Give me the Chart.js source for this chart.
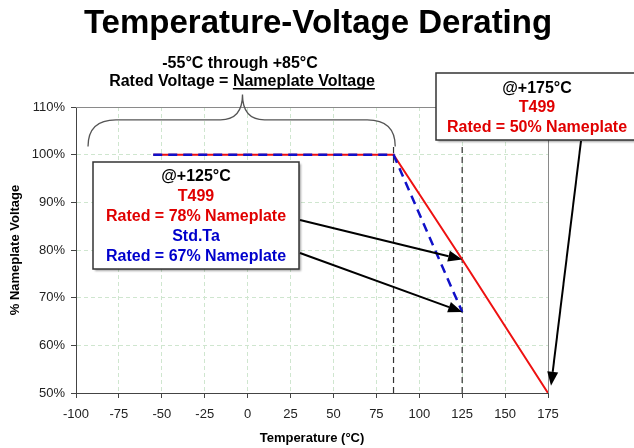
<!DOCTYPE html>
<html>
<head>
<title>Temperature-Voltage Derating</title>
<script src="https://cdn.jsdelivr.net/npm/chart.js"></script>
<style>
    body { margin: 0; background: #fff; }
</style>
</head>
<body>
<canvas id="derating" width="634" height="448"></canvas>
<script>
    // T499 derating curve (red, solid)
    const t499Temps = [-55, 85, 125, 175];
    const t499Rated = [100, 100, 78, 50];
    // Std. tantalum derating curve (blue, dashed)
    const stdTaTemps = [-55, 85, 125];
    const stdTaRated = [100, 100, 67];
    // vertical marker lines at +85 and +125
    const markerTemps = [85, 125];
    const markerSpan = [50, 102];
    // axis ranges
    const xRange = [-100, 175, 25];
    const yRange = [50, 110, 10];

    const RED = '#ee1111';
    const BLUE = '#1010c8';
    const GRID = '#cfe6cf';
    const AXIS = '#444';

    const toPoints = (xs, ys) => xs.map((x, i) => ({ x: x, y: ys[i] }));

    const datasets = [
        {
            label: 'Std.Ta',
            data: toPoints(stdTaTemps, stdTaRated),
            borderColor: BLUE,
            borderWidth: 2.5,
            borderDash: [9, 6],
            pointRadius: 0,
            order: 0
        },
        {
            label: 'T499',
            data: toPoints(t499Temps, t499Rated),
            borderColor: RED,
            borderWidth: 2,
            pointRadius: 0,
            order: 1
        }
    ];
    markerTemps.forEach(t => {
        datasets.push({
            label: 'marker ' + t,
            data: markerSpan.map(v => ({ x: t, y: v })),
            borderColor: '#333',
            borderWidth: 1.2,
            borderDash: [6, 4],
            pointRadius: 0,
            order: 2
        });
    });

    function arrow(ctx, x0, y0, x1, y1) {
        const ang = Math.atan2(y1 - y0, x1 - x0), L = 14, W = 5.5;
        const bx = x1 - L * Math.cos(ang), by = y1 - L * Math.sin(ang);
        ctx.beginPath();
        ctx.moveTo(x0, y0);
        ctx.lineTo(bx, by);
        ctx.stroke();
        ctx.beginPath();
        ctx.moveTo(x1, y1);
        ctx.lineTo(bx + W * Math.sin(ang), by - W * Math.cos(ang));
        ctx.lineTo(bx - W * Math.sin(ang), by + W * Math.cos(ang));
        ctx.closePath();
        ctx.fill();
    }

    function box(ctx, x, y, w, h, lines) {
        ctx.save();
        ctx.shadowColor = 'rgba(0,0,0,0.35)';
        ctx.shadowOffsetX = 2;
        ctx.shadowOffsetY = 2;
        ctx.shadowBlur = 2;
        ctx.fillStyle = '#fff';
        ctx.fillRect(x, y, w, h);
        ctx.restore();
        ctx.strokeStyle = '#333';
        ctx.lineWidth = 1.5;
        ctx.strokeRect(x, y, w, h);
        ctx.textAlign = 'center';
        ctx.textBaseline = 'middle';
        lines.forEach(l => {
            ctx.fillStyle = l.color;
            ctx.font = 'bold 16px Arial';
            ctx.fillText(l.text, l.cx, l.cy);
        });
    }

    const overlay = {
        id: 'overlay',
        afterDraw(chart) {
            const ctx = chart.ctx, xs = chart.scales.x, ys = chart.scales.y, a = chart.chartArea;
            ctx.save();

            // plot frame (top and right)
            ctx.strokeStyle = '#8a8a8a';
            ctx.lineWidth = 1;
            ctx.beginPath();
            ctx.moveTo(a.left, a.top + 0.5);
            ctx.lineTo(a.right + 0.5, a.top + 0.5);
            ctx.lineTo(a.right + 0.5, a.bottom);
            ctx.stroke();

            // title
            ctx.fillStyle = '#000';
            ctx.font = 'bold 33px Arial';
            ctx.textAlign = 'center';
            ctx.textBaseline = 'alphabetic';
            ctx.fillText('Temperature-Voltage Derating', 318, 33);

            // range note
            ctx.font = 'bold 16px Arial';
            ctx.fillText('-55\u00b0C through +85\u00b0C', 240, 68);
            const p1 = 'Rated Voltage = ', p2 = 'Nameplate Voltage';
            const w1 = ctx.measureText(p1).width, w2 = ctx.measureText(p2).width;
            const sx = 242 - (w1 + w2) / 2;
            ctx.textAlign = 'left';
            ctx.fillText(p1, sx, 86);
            ctx.fillText(p2, sx + w1, 86);
            ctx.fillRect(sx + w1, 88, w2, 1.5);

            // brace over -55..+85 range
            const bx0 = xs.getPixelForValue(-93), bx1 = xs.getPixelForValue(86), bxm = xs.getPixelForValue(-3);
            const byEnd = ys.getPixelForValue(101.7), byMid = ys.getPixelForValue(107.3), byTip = ys.getPixelForValue(112.6);
            ctx.strokeStyle = '#555';
            ctx.lineWidth = 1.3;
            ctx.beginPath();
            ctx.moveTo(bx0, byEnd);
            ctx.quadraticCurveTo(bx0, byMid, bx0 + 28, byMid);
            ctx.lineTo(bxm - 22, byMid);
            ctx.quadraticCurveTo(bxm, byMid, bxm, byTip);
            ctx.quadraticCurveTo(bxm, byMid, bxm + 22, byMid);
            ctx.lineTo(bx1 - 28, byMid);
            ctx.quadraticCurveTo(bx1, byMid, bx1, byEnd);
            ctx.stroke();

            // callout boxes
            box(ctx, 93, 162, 206, 107, [
                { text: '@+125\u00b0C', color: '#000', cx: 196, cy: 177 },
                { text: 'T499', color: '#e00000', cy: 197, cx: 196 },
                { text: 'Rated = 78% Nameplate', color: '#e00000', cx: 196, cy: 217 },
                { text: 'Std.Ta', color: '#0000cc', cx: 196, cy: 237 },
                { text: 'Rated = 67% Nameplate', color: '#0000cc', cx: 196, cy: 257 }
            ]);
            box(ctx, 436, 73, 210, 67, [
                { text: '@+175\u00b0C', color: '#000', cx: 537, cy: 89 },
                { text: 'T499', color: '#e00000', cx: 537, cy: 108 },
                { text: 'Rated = 50% Nameplate', color: '#e00000', cx: 537, cy: 128 }
            ]);

            // arrows to the rated points
            ctx.strokeStyle = '#000';
            ctx.fillStyle = '#000';
            ctx.lineWidth = 2;
            arrow(ctx, 300, 220, xs.getPixelForValue(125), ys.getPixelForValue(t499Rated[2]));
            arrow(ctx, 300, 253, xs.getPixelForValue(125), ys.getPixelForValue(stdTaRated[2]));
            arrow(ctx, 581, 141, xs.getPixelForValue(175) + 3, ys.getPixelForValue(51.5));

            ctx.restore();
        }
    };

    const tickFont = { family: 'Arial', size: 13 };
    const titleFont = { family: 'Arial', size: 13, weight: 'bold' };

    new Chart(document.getElementById('derating'), {
        type: 'line',
        data: { datasets: datasets },
        options: {
            responsive: false,
            animation: false,
            devicePixelRatio: 1,
            layout: { padding: { top: 107, right: 86, left: 0, bottom: 0 } },
            plugins: { legend: { display: false }, tooltip: { enabled: false } },
            elements: { line: { tension: 0 } },
            scales: {
                x: {
                    type: 'linear',
                    min: xRange[0], max: xRange[1],
                    ticks: { stepSize: xRange[2], color: '#222', font: tickFont, padding: 9, autoSkip: false, maxRotation: 0 },
                    grid: { color: GRID, tickColor: AXIS, tickLength: 5 },
                    border: { color: AXIS, dash: [4, 3] },
                    title: { display: true, text: 'Temperature (\u00b0C)', color: '#000', font: titleFont, padding: { top: 0, bottom: 2 } },
                    afterFit: s => { s.height = 55; }
                },
                y: {
                    min: yRange[0], max: yRange[1],
                    ticks: { stepSize: yRange[2], color: '#222', font: tickFont, padding: 6, callback: v => v + '%' },
                    grid: { color: GRID, tickColor: AXIS, tickLength: 5 },
                    border: { color: AXIS, dash: [4, 3] },
                    title: { display: true, text: '% Nameplate Voltage', color: '#000', font: titleFont, padding: { top: 8, bottom: 0 } },
                    afterFit: s => { s.width = 76; }
                }
            }
        },
        plugins: [overlay]
    });
</script>
</body>
</html>
